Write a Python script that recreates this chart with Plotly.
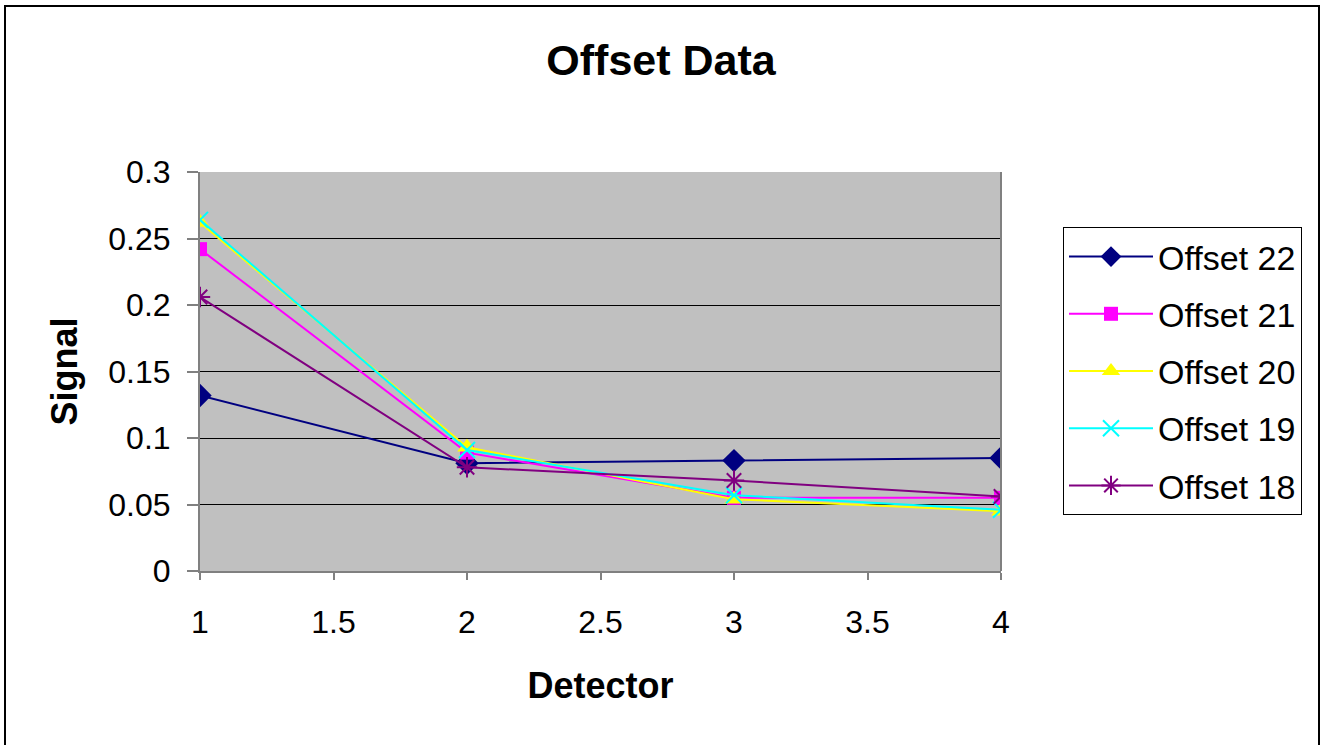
import plotly.graph_objects as go

# Signal per detector for each offset setting
detectors = [1, 2, 3, 4]
offset_22 = [0.132, 0.081, 0.083, 0.085]
offset_21 = [0.242, 0.089, 0.055, 0.055]
offset_20 = [0.262, 0.093, 0.054, 0.045]
offset_19 = [0.264, 0.091, 0.057, 0.046]
offset_18 = [0.206, 0.078, 0.068, 0.056]

series = [
    ("Offset 22", offset_22, "#000080", "diamond", 18),
    ("Offset 21", offset_21, "#FF00FF", "square", 14),
    ("Offset 20", offset_20, "#FFFF00", "triangle-up", 17),
    ("Offset 19", offset_19, "#00FFFF", "x-thin-open", 16),
    ("Offset 18", offset_18, "#800080", "asterisk-open", 17),
]

FONT = "Arial, Liberation Sans, sans-serif"

fig = go.Figure()
for name, vals, color, symbol, size in series:
    open_marker = symbol.endswith("-open")
    fig.add_trace(go.Scatter(
        x=detectors, y=vals, name=name, legendgroup=name,
        mode="lines+markers",
        line=dict(color=color, width=2),
        marker=dict(symbol=symbol, size=size, color=color,
                    line=dict(color=color, width=2 if open_marker else 0)),
    ))

axis_font = dict(family=FONT, size=32, color="black")
title_font = dict(family=FONT, size=36, color="black")

fig.update_layout(
    width=1322, height=745,
    margin=dict(l=200, r=321, t=172, b=174),
    paper_bgcolor="white",
    plot_bgcolor="#C0C0C0",
    font=dict(family=FONT, color="black"),
    title=dict(text="<b>Offset Data</b>", x=0.5, xanchor="center",
               y=1 - 60 / 745, yanchor="middle",
               font=dict(size=43, family=FONT, color="black")),
    xaxis=dict(range=[1, 4], tickvals=[1, 1.5, 2, 2.5, 3, 3.5, 4],
               ticktext=["1", "1.5", "2", "2.5", "3", "3.5", "4"],
               showgrid=False, zeroline=False,
               showline=True, linecolor="#808080", linewidth=2,
               ticks="outside", ticklen=7, tickcolor="#808080", tickwidth=2,
               ticklabelstandoff=15,
               tickfont=axis_font,
               title=dict(text="<b>Detector</b>", font=title_font, standoff=33)),
    yaxis=dict(range=[0, 0.3], tickvals=[0, 0.05, 0.1, 0.15, 0.2, 0.25, 0.3],
               ticktext=["0", "0.05", "0.1", "0.15", "0.2", "0.25", "0.3"],
               showgrid=True, gridcolor="black", gridwidth=1, zeroline=False,
               showline=True, linecolor="#808080", linewidth=2,
               ticks="outside", ticklen=11, tickcolor="#808080", tickwidth=2,
               ticklabelstandoff=10,
               tickfont=axis_font,
               title=dict(text="<b>Signal</b>", font=title_font, standoff=20)),
    legend=dict(x=(1063 - 200) / 801, xanchor="left",
                y=(571 - 227) / 399, yanchor="top",
                bordercolor="black", borderwidth=1, bgcolor="white",
                font=dict(size=34, family=FONT, color="black"),
                tracegroupgap=10, itemwidth=84),
    showlegend=True,
)

# Outer frame around the whole chart area
fig.add_shape(type="rect", xref="paper", yref="paper",
              x0=(5 - 200) / 801, x1=(1319 - 200) / 801,
              y0=(571 - 760) / 399, y1=(571 - 6) / 399,
              line=dict(color="black", width=2), fillcolor="rgba(0,0,0,0)", layer="below")
# Right edge of the plot area
fig.add_shape(type="line", xref="paper", yref="paper", x0=1, x1=1, y0=0, y1=1,
              line=dict(color="#808080", width=2))

fig.write_html("out.html")
